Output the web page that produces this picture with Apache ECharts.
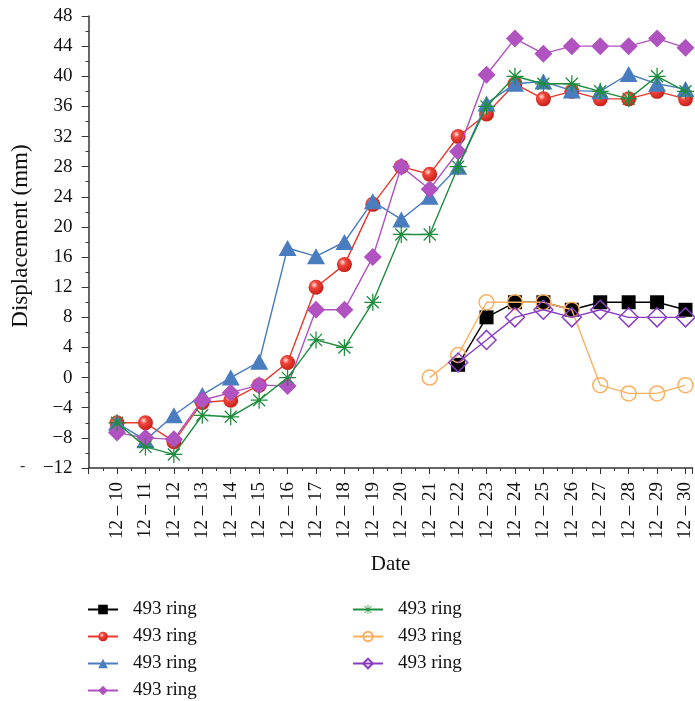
<!DOCTYPE html>
<html>
<head>
<meta charset="utf-8">
<script src="https://cdn.jsdelivr.net/npm/echarts@6/dist/echarts.min.js"></script>
<style>
  html, body {margin: 0; padding: 0; background: #fff;}
  #chart {width: 695px; height: 701px;}
</style>
</head>
<body>
<div id="chart"></div>
<script>
// Displacement of monitoring rings, 12-10 .. 12-30

const dates = ["12 – 10", "12 – 11", "12 – 12", "12 – 13", "12 – 14", "12 – 15", "12 – 16",
  "12 – 17", "12 – 18", "12 – 19", "12 – 20", "12 – 21", "12 – 22", "12 – 23", "12 – 24",
  "12 – 25", "12 – 26", "12 – 27", "12 – 28", "12 – 29", "12 – 30"]
const days = [10, 11, 12, 13, 14, 15, 16, 17, 18, 19, 20, 21, 22, 23, 24, 25, 26, 27, 28, 29, 30]

const seriesLabels = ["493 ring", "493 ring", "493 ring", "493 ring", "493 ring", "493 ring", "493 ring"]

const blackSquare = [null, null, null, null, null, null, null, null, null, null, null, null, 1.7, 8, 10, 10, 9, 10, 10, 10, 9]
const redSphere = [-6, -6, -8.5, -3.3, -3, -1, 2, 12, 15, 23, 28, 27, 32, 35, 39, 37, 38, 37, 37, 38, 37]
const blueTriangle = [-6, -8.3, -5, -2.3, 0, 2.1, 17.2, 16.1, 18, 23.4, 21, 24, 28, 36.4, 39, 39.3, 38.1, 38, 40.3, 39, 38.3]
const magentaDiamond = [-7.3, -8, -8.2, -3, -2, -1, -1.1, 9, 9, 16, 28, 25, 30, 40.2, 45, 43, 44, 44, 44, 45, 43.8]
const greenStar = [-6, -9.2, -10.2, -5, -5.2, -3, 0, 5, 4, 10, 19, 19, 28, 36, 40, 39, 39, 38, 37, 40, 38]
const orangeCircle = [null, null, null, null, null, null, null, null, null, null, null, 0, 3, 10, 10, 10, 9, -1, -2.1, -2.1, -1]
const violetDiamond = [null, null, null, null, null, null, null, null, null, null, null, null, 2, 5, 8, 9, 8, 9, 8, 8, 8]

const yTicks = {min: -12, max: 48, step: 4}

const SERIF = "'Liberation Serif', 'DejaVu Serif', serif"

// asterisk made of four thin bars (filled path, union via nonzero rule)
function asteriskPath() {
  const L = 10, w = 0.75
  let d = ""
  for (const deg of [0, 45, 90, 135]) {
    const a = deg * Math.PI / 180
    const c = Math.cos(a), s = Math.sin(a)
    const pts = [[L, w], [-L, w], [-L, -w], [L, -w]].map(([u, v]) =>
      [(u * c - v * s).toFixed(3), (u * s + v * c).toFixed(3)])
    d += "M" + pts.map(p => p.join(" ")).join(" L") + " Z "
  }
  return "path://" + d
}

const sphere = {
  type: "radial", x: 0.38, y: 0.35, r: 0.65,
  colorStops: [
    {offset: 0, color: "#ffe6e0"},
    {offset: 0.35, color: "#f0453a"},
    {offset: 1, color: "#c8201a"},
  ],
}

function points(values) {
  const out = []
  values.forEach((v, i) => { if (v !== null) out.push([days[i], v]) })
  return out
}

const styles = [
  {values: blackSquare, line: "#000000", symbol: "rect", size: 14, item: {color: "#000000"}},
  {values: redSphere, line: "#e8392d", symbol: "circle", size: 15, item: {color: sphere}},
  {values: blueTriangle, line: "#4a7cc0", symbol: "triangle", size: [18, 16], item: {color: "#4a7cc0"}},
  {values: magentaDiamond, line: "#b052c0", symbol: "diamond", size: 18, item: {color: "#b052c0"}},
  {values: greenStar, line: "#1e8c3c", symbol: asteriskPath(), size: 17, item: {color: "#1e8c3c"}},
  {values: orangeCircle, line: "#fbb060", symbol: "circle", size: 15,
    item: {color: "rgba(255,255,255,0)", borderColor: "#fbb060", borderWidth: 1.5}},
  {values: violetDiamond, line: "#8a3dc0", symbol: "diamond", size: 19,
    item: {color: "rgba(255,255,255,0)", borderColor: "#8a3dc0", borderWidth: 1.5}},
]

const seriesNames = styles.map((_, i) => "ring" + i)

const series = styles.map((s, i) => ({
  name: seriesNames[i],
  type: "line",
  data: points(s.values),
  symbol: s.symbol,
  symbolSize: s.size,
  showAllSymbol: true,
  lineStyle: {color: s.line, width: 1.4},
  itemStyle: s.item,
  emphasis: {disabled: true},
  animation: false,
  z: 2 + i,
}))

const legendBase = {
  orient: "vertical",
  padding: 0,
  height: 110,
  itemWidth: 30,
  itemHeight: 12,
  itemGap: 8,
  selectedMode: false,
  formatter: name => seriesLabels[seriesNames.indexOf(name)],
  textStyle: {fontFamily: SERIF, fontSize: 19, lineHeight: 18, color: "#111", padding: [0, 0, 0, 10]},
}

const axisText = {fontFamily: SERIF, fontSize: 19, color: "#111"}

const option = {
  backgroundColor: "#fff",
  animation: false,
  grid: {left: 88.6, right: 0, top: 16, bottom: 233, containLabel: false},
  legend: [
    Object.assign({}, legendBase, {left: 87, top: 600, data: seriesNames.slice(0, 4)}),
    Object.assign({}, legendBase, {left: 352, top: 600, data: seriesNames.slice(4)}),
  ],
  xAxis: {
    type: "value",
    min: 9,
    max: 30.25,
    interval: 1,
    name: "Date",
    nameLocation: "middle",
    nameGap: 86,
    nameTextStyle: {fontFamily: SERIF, fontSize: 21, color: "#111"},
    axisLine: {onZero: false, lineStyle: {color: "#333", width: 1.5}},
    axisTick: {length: 6, lineStyle: {color: "#333", width: 1}},
    minorTick: {show: true, splitNumber: 2, length: 3, lineStyle: {color: "#333", width: 1}},
    splitLine: {show: false},
    axisLabel: Object.assign({}, axisText, {
      rotate: 90,
      margin: 14,
      showMinLabel: true,
      showMaxLabel: true,
      formatter: v => {
        const i = days.indexOf(v)
        return i >= 0 ? dates[i] : ""
      },
    }),
  },
  yAxis: {
    type: "value",
    min: yTicks.min,
    max: yTicks.max,
    interval: yTicks.step,
    name: "Displacement (mm)",
    nameLocation: "middle",
    nameGap: 54,
    nameTextStyle: {fontFamily: SERIF, fontSize: 23, color: "#111", padding: [0, 0, 0, 12]},
    axisLine: {show: true, lineStyle: {color: "#333", width: 1.5}},
    axisTick: {show: true, length: 7, lineStyle: {color: "#333", width: 1}},
    minorTick: {show: true, splitNumber: 2, length: 3, lineStyle: {color: "#333", width: 1}},
    splitLine: {show: false},
    axisLabel: Object.assign({}, axisText, {
      margin: 16,
      formatter: v => (v < 0 ? "\u2212" + Math.abs(v) : String(v)),
    }),
  },
  graphic: [
    {type: "text", left: 20, top: 459, style: {text: "-", font: "16px " + SERIF, fill: "#333"}},
  ],
  series,
}

const chart = echarts.init(document.getElementById("chart"), null, {renderer: "canvas"})
chart.setOption(option)
</script>
</body>
</html>
